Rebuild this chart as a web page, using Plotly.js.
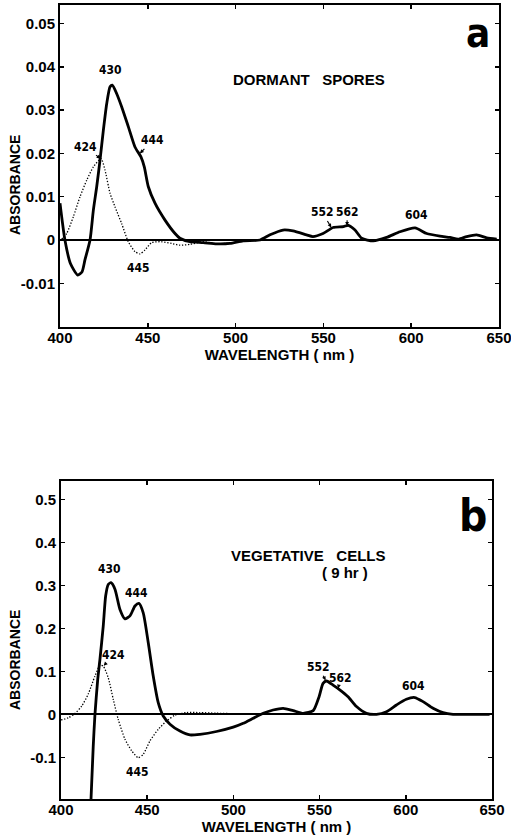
<!DOCTYPE html>
<html>
<head>
<meta charset="utf-8">
<script src="https://cdn.plot.ly/plotly-3.0.1.min.js"></script>
<style>html,body{margin:0;padding:0;background:#fff;}#chart{width:511px;height:836px;}</style>
</head>
<body>
<div id="chart"></div>
<script>
// ---- Panel a: dormant spores ----
const wlA_solid = [400, 402.8, 406, 410.1, 412.5, 414.2, 417.1, 419, 420.9, 422.8, 424.7, 426.6, 428.5, 429.8, 432.3, 435.1, 438.9, 442.7, 446.1, 448, 450.3, 454.1, 459.8, 465.5, 468.3, 474, 481.6, 489.2, 496.8, 504.3, 513.9, 519.6, 527, 532.7, 540.4, 544, 549.8, 555.5, 561.4, 564.2, 568, 571.8, 578.4, 586, 593.6, 602.2, 608.8, 616.4, 622.1, 626.8, 631.6, 637.3, 643, 648.7];
const absA_solid = [0.0085, 0.0, -0.0055, -0.0081, -0.0074, -0.0046, 0.0, 0.0069, 0.0123, 0.0185, 0.0254, 0.0315, 0.0354, 0.0358, 0.0338, 0.0308, 0.0262, 0.0215, 0.0192, 0.0169, 0.0123, 0.0085, 0.0046, 0.0015, 0.0004, -0.0004, -0.0006, -0.0009, -0.0008, -0.0002, 0.0, 0.0012, 0.0023, 0.0021, 0.0012, 0.0008, 0.0015, 0.0029, 0.0031, 0.0034, 0.0023, 0.0004, -0.0002, 0.0006, 0.0019, 0.0028, 0.0015, 0.0009, 0.0006, 0.0002, 0.0008, 0.0012, 0.0005, 0.0002];
const wlA_dot = [401, 403.8, 407.6, 411.4, 415.2, 419, 423.4, 425.6, 428.5, 431.3, 435.1, 438.9, 442.7, 445.6, 448.4, 452.2, 457.9, 463.6, 468.3, 474, 481.6, 489.2, 496.8];
const absA_dot = [0.0002, 0.0015, 0.0054, 0.0100, 0.0138, 0.0169, 0.0188, 0.0162, 0.0108, 0.0077, 0.0038, -0.0004, -0.0027, -0.0032, -0.0023, -0.0006, -0.0004, -0.0008, -0.0012, -0.0010, -0.0004, -0.0009, -0.0007];

// ---- Panel b: vegetative cells (9 hr) ----
const wlB_solid = [417.4, 418.7, 419.7, 421.3, 422.6, 424.5, 425.9, 427.4, 429, 431.3, 434.2, 437.1, 440, 442.9, 445.2, 447.7, 450.6, 453.5, 456.4, 459.3, 463.2, 469, 474.8, 480.6, 490.2, 499.9, 505.7, 511.5, 517.3, 523, 528.9, 534.7, 540.5, 546.3, 549.7, 552, 554, 557.8, 561.7, 566.5, 571.4, 577.2, 583, 588.8, 594.6, 600.3, 605.2, 610, 615.8, 621.6, 627.4, 635.1, 648.6];
const absB_solid = [-0.198, -0.074, 0.0, 0.081, 0.128, 0.205, 0.275, 0.302, 0.306, 0.291, 0.244, 0.222, 0.229, 0.252, 0.258, 0.236, 0.167, 0.089, 0.027, -0.004, -0.023, -0.039, -0.048, -0.0465, -0.040, -0.030, -0.021, -0.0093, 0.0023, 0.010, 0.014, 0.0085, 0.0023, 0.0085, 0.041, 0.072, 0.0775, 0.068, 0.057, 0.041, 0.018, 0.0023, 0.0, 0.006, 0.0217, 0.035, 0.039, 0.0295, 0.014, 0.0039, 0.0, 0.0, 0.0];
const wlB_dot = [400, 404.3, 408.1, 412, 415.8, 419.7, 422.6, 424.5, 427.4, 430.3, 433.2, 437.1, 441, 444.8, 447.7, 451.6, 456.4, 461.3, 466.1, 472.8, 480.6, 490.2, 499.9];
const absB_dot = [-0.013, -0.008, 0.002, 0.019, 0.047, 0.089, 0.114, 0.112, 0.085, 0.035, -0.012, -0.058, -0.085, -0.101, -0.093, -0.062, -0.035, -0.0155, -0.002, 0.004, 0.004, 0.0025, 0.0015];

// ---- ticks ----
const xTicks = [400, 450, 500, 550, 600, 650];
const xTickText = ['400', '450', '500', '550', '600', '650'];
const yTicksA = [-0.01, 0, 0.01, 0.02, 0.03, 0.04, 0.05];
const yTickTextA = ['-0.01', '0', '0.01', '0.02', '0.03', '0.04', '0.05'];
const yTicksB = [-0.1, 0, 0.1, 0.2, 0.3, 0.4, 0.5];
const yTickTextB = ['-0.1', '0', '0.1', '0.2', '0.3', '0.4', '0.5'];

const W = 511, H = 836;
const FONT = 'Liberation Sans, Arial, sans-serif';
const NARROW = 'Liberation Sans Narrow, DejaVu Sans Condensed, Liberation Sans, sans-serif';

const solidLine = {color: '#000', width: 2.8, shape: 'spline', smoothing: 0.6};
const dotLine = {color: '#000', width: 1.3, dash: '1.3px,1.7px', shape: 'spline', smoothing: 0.6};

const traces = [
  {x: wlA_dot, y: absA_dot, xaxis: 'x', yaxis: 'y', mode: 'lines', line: dotLine, name: 'a dotted', showlegend: false},
  {x: wlA_solid, y: absA_solid, xaxis: 'x', yaxis: 'y', mode: 'lines', line: solidLine, name: 'a solid', showlegend: false},
  {x: wlB_dot, y: absB_dot, xaxis: 'x2', yaxis: 'y2', mode: 'lines', line: dotLine, name: 'b dotted', showlegend: false},
  {x: wlB_solid, y: absB_solid, xaxis: 'x2', yaxis: 'y2', mode: 'lines', line: solidLine, name: 'b solid', showlegend: false}
];

function xAxis(domain, anchor) {
  return {
    domain: domain, anchor: anchor, range: [400, 650],
    tickmode: 'array', tickvals: xTicks, ticktext: xTickText,
    ticks: 'inside', ticklen: 4, tickwidth: 1.5, tickcolor: '#000',
    showline: true, linewidth: 2, linecolor: '#000', mirror: 'ticks',
    showgrid: false, zeroline: false, ticklabeloverflow: 'allow', ticklabelstandoff: -4,
    tickfont: {family: FONT, size: 15, color: '#000', weight: 'bold'},
    title: {text: 'WAVELENGTH ( nm )', font: {family: FONT, size: 15, color: '#000', weight: 'bold'}, standoff: 1}
  };
}
function yAxis(domain, anchor, range, vals, text) {
  return {
    domain: domain, anchor: anchor, range: range,
    tickmode: 'array', tickvals: vals, ticktext: text,
    ticks: 'inside', ticklen: 4, tickwidth: 1.5, tickcolor: '#000',
    showline: true, linewidth: 2, linecolor: '#000', mirror: 'ticks',
    showgrid: false, zeroline: true, zerolinecolor: '#000', zerolinewidth: 2,
    tickfont: {family: FONT, size: 15, color: '#000', weight: 'bold'}
  };
}

function lab(text, x, y, xref, yref, extra) {
  return Object.assign({text: text, x: x, y: y, xref: xref, yref: yref, showarrow: false,
    xanchor: 'center', yanchor: 'middle',
    font: {family: NARROW, size: 12, color: '#000', weight: 'bold'}}, extra || {});
}
function arrowLab(text, x, y, ax, ay, xref, yref) {
  return {text: text, x: x, y: y, xref: xref, yref: yref, showarrow: true,
    ax: ax, ay: ay, arrowhead: 2, arrowsize: 0.7, arrowwidth: 1.1, arrowcolor: '#000', standoff: 0,
    font: {family: NARROW, size: 12, color: '#000', weight: 'bold'}};
}

const annotations = [
  // panel a
  lab('DORMANT\u00a0\u00a0\u00a0SPORES', 542, 0.0372, 'x', 'y', {font: {family: FONT, size: 15, color: '#000', weight: 'bold'}}),
  lab('a', 478 / W, 1 - 33 / H, 'paper', 'paper', {font: {family: NARROW, size: 40, color: '#000', weight: 'bold'}}),
  lab('ABSORBANCE', 15 / W, 1 - 185 / H, 'paper', 'paper', {textangle: -90, font: {family: FONT, size: 14, color: '#000', weight: 'bold'}}),
  lab('430', 428.5, 0.0392, 'x', 'y'),
  arrowLab('424', 423.0, 0.0188, -15, -12, 'x', 'y'),
  arrowLab('444', 445.5, 0.0200, 13, -13, 'x', 'y'),
  lab('445', 444.5, -0.0065, 'x', 'y'),
  arrowLab('552', 554.5, 0.0029, -9, -15, 'x', 'y'),
  arrowLab('562', 563.5, 0.0033, 0, -14, 'x', 'y'),
  lab('604', 603, 0.0058, 'x', 'y'),
  // panel b
  lab('VEGETATIVE\u00a0\u00a0\u00a0CELLS', 543, 0.37, 'x2', 'y2', {font: {family: FONT, size: 15, color: '#000', weight: 'bold'}}),
  lab('(\u00a09\u00a0hr\u00a0)', 564.6, 0.33, 'x2', 'y2', {font: {family: FONT, size: 15, color: '#000', weight: 'bold'}}),
  lab('b', 473 / W, 1 - 515 / H, 'paper', 'paper', {font: {family: NARROW, size: 44, color: '#000', weight: 'bold'}}),
  lab('ABSORBANCE', 15 / W, 1 - 660 / H, 'paper', 'paper', {textangle: -90, font: {family: FONT, size: 14, color: '#000', weight: 'bold'}}),
  lab('430', 428.4, 0.338, 'x2', 'y2'),
  lab('444', 444, 0.282, 'x2', 'y2'),
  arrowLab('424', 424.8, 0.113, 10, -11, 'x2', 'y2'),
  lab('445', 444.6, -0.134, 'x2', 'y2'),
  arrowLab('552', 553.5, 0.079, -7, -13, 'x2', 'y2'),
  arrowLab('562', 560.8, 0.060, 2, -11, 'x2', 'y2'),
  lab('604', 604.6, 0.066, 'x2', 'y2')
];

const layout = {
  width: W, height: H,
  margin: {l: 0, r: 0, t: 0, b: 0},
  paper_bgcolor: '#fff', plot_bgcolor: '#fff',
  showlegend: false,
  xaxis: xAxis([60 / W, 499 / W], 'y'),
  yaxis: yAxis([1 - 327 / H, 1 - 5 / H], 'x', [-0.0201, 0.0543], yTicksA, yTickTextA),
  xaxis2: xAxis([61 / W, 492 / W], 'y2'),
  yaxis2: yAxis([1 - 799 / H, 1 - 481 / H], 'x2', [-0.197, 0.5426], yTicksB, yTickTextB),
  annotations: annotations
};

Plotly.newPlot('chart', traces, layout, {displayModeBar: false, staticPlot: true});
</script>
</body>
</html>
